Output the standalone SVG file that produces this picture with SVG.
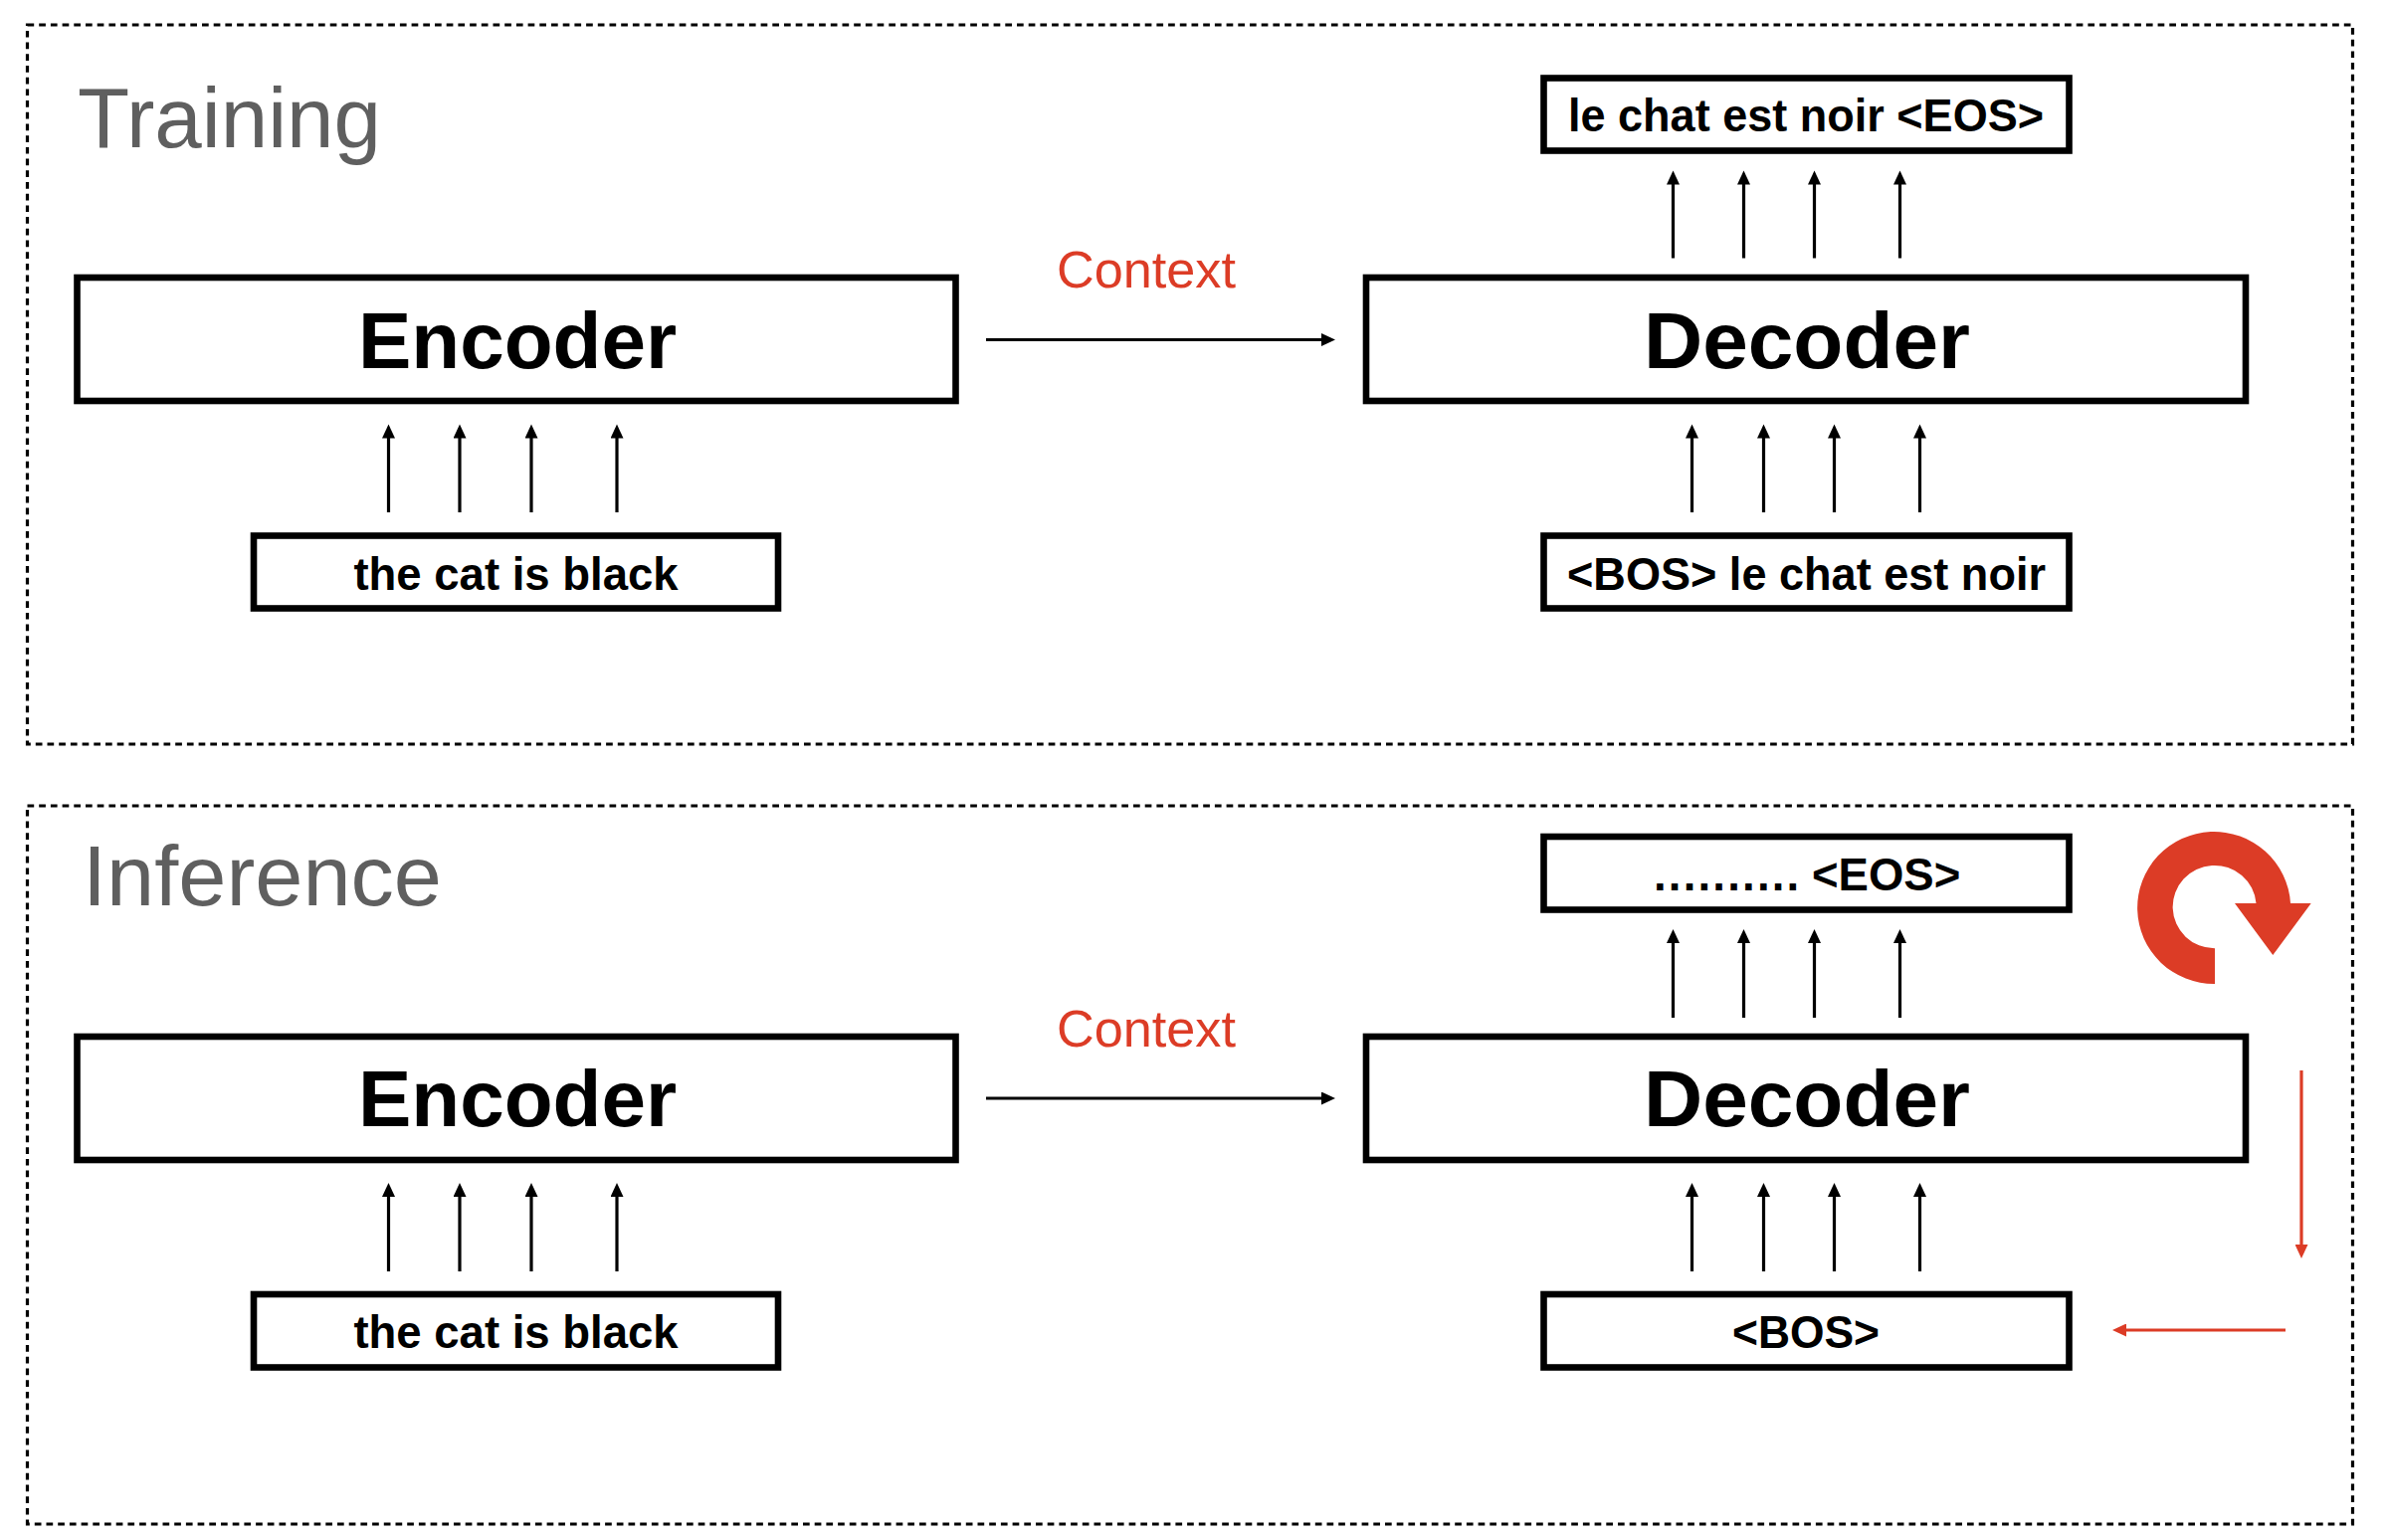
<svg xmlns="http://www.w3.org/2000/svg" width="2398" height="1548" viewBox="0 0 2398 1548">
<style>
.frame{fill:none;stroke:#000;stroke-width:3.2;stroke-dasharray:6.7 5}
.box{fill:#fff;stroke:#000;stroke-width:6.6}
.big{font:bold 80px "Liberation Sans",Arial,sans-serif;fill:#000;text-anchor:middle}
.small{font:bold 45.5px "Liberation Sans",Arial,sans-serif;fill:#000}
.title{font:86px "Liberation Sans",Arial,sans-serif;fill:#5f5f5f}
.ctx{font:51.5px "Liberation Sans",Arial,sans-serif;fill:#dc3c26}
.k{stroke:#000;stroke-width:3.2;fill:none;marker-end:url(#ah)}
.r{stroke:#dc3c26;stroke-width:3.2;fill:none;marker-end:url(#ahr)}
</style>
<defs>
<marker id="ah" markerUnits="userSpaceOnUse" markerWidth="15" markerHeight="13" refX="1" refY="6.5" orient="auto"><path d="M0 0L14 6.5L0 13Z" fill="#000"/></marker>
<marker id="ahr" markerUnits="userSpaceOnUse" markerWidth="15" markerHeight="13" refX="1" refY="6.5" orient="auto"><path d="M0 0L14 6.5L0 13Z" fill="#dc3c26"/></marker>
</defs>
<rect width="2398" height="1548" fill="#fff"/>
<g id="training-frame"><rect class="frame" x="27.5" y="25" width="2337" height="723"/><text class="title" x="78" y="148" textLength="305" lengthAdjust="spacingAndGlyphs">Training</text></g>
<g id="inference-frame"><rect class="frame" x="27.5" y="810" width="2337" height="722"/><text class="title" x="83" y="910" textLength="361" lengthAdjust="spacingAndGlyphs">Inference</text></g>

<g id="t-encoder"><rect class="box" x="77.5" y="279" width="883" height="124"/><text class="big" x="520" y="369.5">Encoder</text></g>
<g id="t-decoder"><rect class="box" x="1373" y="279" width="884" height="124"/><text class="big" x="1816" y="369.5" textLength="328" lengthAdjust="spacingAndGlyphs">Decoder</text></g>
<g id="t-input"><rect class="box" x="255" y="538.5" width="527" height="73"/><text class="small" x="518.5" y="592.5" text-anchor="middle">the cat is black</text></g>
<g id="t-dec-input"><rect class="box" x="1551.5" y="538.5" width="528" height="73"/><text class="small" x="1815.5" y="592.5" text-anchor="middle" textLength="481" lengthAdjust="spacingAndGlyphs">&lt;BOS&gt; le chat est noir</text></g>
<g id="t-output"><rect class="box" x="1551.5" y="78.5" width="528" height="73"/><text class="small" x="1815" y="132" text-anchor="middle" textLength="478" lengthAdjust="spacingAndGlyphs">le chat est noir &lt;EOS&gt;</text></g>
<g id="t-context"><text class="ctx" x="1062" y="289" textLength="180" lengthAdjust="spacingAndGlyphs">Context</text></g>

<g id="i-encoder"><rect class="box" x="77.5" y="1042" width="883" height="124"/><text class="big" x="520" y="1132">Encoder</text></g>
<g id="i-decoder"><rect class="box" x="1373" y="1042" width="884" height="124"/><text class="big" x="1816" y="1132" textLength="328" lengthAdjust="spacingAndGlyphs">Decoder</text></g>
<g id="i-input"><rect class="box" x="255" y="1301" width="527" height="73.5"/><text class="small" x="518.5" y="1355" text-anchor="middle">the cat is black</text></g>
<g id="i-dec-input"><rect class="box" x="1551.5" y="1301" width="528" height="73.5"/><text class="small" x="1815" y="1355" text-anchor="middle" textLength="148" lengthAdjust="spacingAndGlyphs">&lt;BOS&gt;</text></g>
<g id="i-output"><rect class="box" x="1551.5" y="841" width="528" height="73.5"/><text class="small" x="1662" y="894.5"><tspan letter-spacing="2.2">..........</tspan><tspan x="1821">&lt;EOS&gt;</tspan></text></g>
<g id="i-context"><text class="ctx" x="1062" y="1052" textLength="180" lengthAdjust="spacingAndGlyphs">Context</text></g>
<g id="loop-icon"><path fill="#dc3c26" d="M2226 989A77 76.5 0 1 1 2302 908L2322.7 908L2284.3 960L2246 908L2267.5 908A42 41.7 0 1 0 2226 953.3Z"/></g>

<g id="connectors">
<path class="k" d="M390.5 515V439.5"/><path class="k" d="M462 515V439.5"/><path class="k" d="M534 515V439.5"/><path class="k" d="M620 515V439.5"/>
<path class="k" d="M1700.5 515V439.5"/><path class="k" d="M1772.5 515V439.5"/><path class="k" d="M1843.5 515V439.5"/><path class="k" d="M1929.5 515V439.5"/>
<path class="k" d="M1681.5 259.5V184.5"/><path class="k" d="M1752.5 259.5V184.5"/><path class="k" d="M1823.5 259.5V184.5"/><path class="k" d="M1909.5 259.5V184.5"/>
<path class="k" d="M991 341.5H1329"/>
<path class="k" d="M390.5 1278V1202"/><path class="k" d="M462 1278V1202"/><path class="k" d="M534 1278V1202"/><path class="k" d="M620 1278V1202"/>
<path class="k" d="M1700.5 1278V1202"/><path class="k" d="M1772.5 1278V1202"/><path class="k" d="M1843.5 1278V1202"/><path class="k" d="M1929.5 1278V1202"/>
<path class="k" d="M1681.5 1023V947"/><path class="k" d="M1752.5 1023V947"/><path class="k" d="M1823.5 1023V947"/><path class="k" d="M1909.5 1023V947"/>
<path class="k" d="M991 1104H1329"/>
<path class="r" d="M2313 1076V1252"/>
<path class="r" d="M2297 1337H2136"/>
</g>
</svg>
